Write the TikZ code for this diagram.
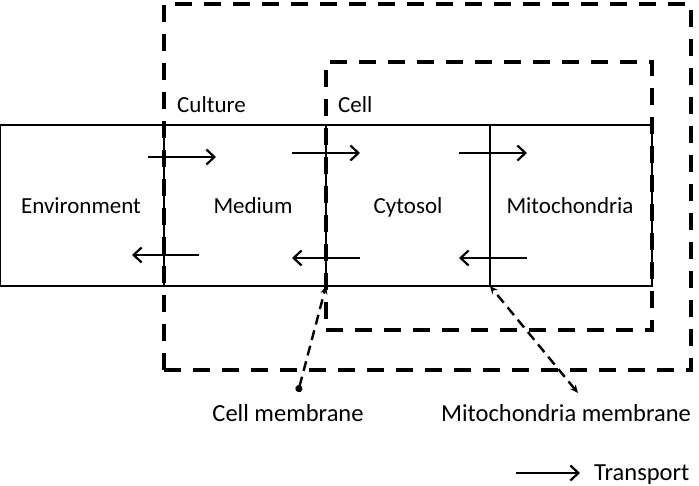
\documentclass[tikz,border=0pt]{standalone}
\usepackage{fontspec}
\setmainfont{Carlito}
\usetikzlibrary{arrows.meta}
\begin{document}
\begin{tikzpicture}[x=1pt,y=-1pt,
 comp/.style={draw,line width=1.3pt,minimum height=161pt,inner sep=0pt,outer sep=0pt},
 grp/.style={draw,line width=4pt,dash pattern=on 17pt off 12pt,inner sep=0pt,outer sep=0pt},
 lbl/.style={font=\fontsize{23}{27}\selectfont,inner sep=0pt,anchor=base},
 blbl/.style={font=\fontsize{24.5}{28}\selectfont,inner sep=0pt,anchor=base},
 tr/.style={line width=2.2pt,-{Straight Barb[length=8pt,width=15pt,line width=2.2pt]}},
 call/.style={line width=2.4pt,dash pattern=on 10pt off 6pt}]
\useasboundingbox (0,0) rectangle (699,486);
% compartments
\node[comp,minimum width=163pt] (env) at (82.3,205.5) {};
\node[comp,minimum width=162pt] (med) at (245,205.5) {};
\node[comp,minimum width=164pt] (cyt) at (408,205.5) {};
\node[comp,minimum width=162pt] (mit) at (571,205.5) {};
% groups
\node[grp,minimum width=527pt,minimum height=366pt] (culture) at (427.5,187) {};
\node[grp,minimum width=326pt,minimum height=268pt] (cell) at (489,196) {};
% labels
\node[lbl] (envl) at (81,214) {Environment};
\node[lbl] (medl) at (253,214) {Medium};
\node[lbl] (cytl) at (408,214) {Cytosol};
\node[lbl] (mitl) at (570,214) {Mitochondria};
\node[lbl,anchor=base west] (culturel) at (177,113) {Culture};
\node[lbl,anchor=base west] (celll) at (338,113) {Cell};
% transport arrows
\coordinate (a1s) at (148,157); \coordinate (a1e) at (216,157);
\coordinate (a2s) at (292,153); \coordinate (a2e) at (360,153);
\coordinate (a3s) at (459,153); \coordinate (a3e) at (527,153);
\coordinate (b1s) at (199,255); \coordinate (b1e) at (132,255);
\coordinate (b2s) at (360,258); \coordinate (b2e) at (292,258);
\coordinate (b3s) at (527,258); \coordinate (b3e) at (459,258);
\draw[tr] (a1s) -- (a1e);
\draw[tr] (a2s) -- (a2e);
\draw[tr] (a3s) -- (a3e);
\draw[tr] (b1s) -- (b1e);
\draw[tr] (b2s) -- (b2e);
\draw[tr] (b3s) -- (b3e);
% membrane callouts
\node[blbl] (cmt) at (288,421) {Cell membrane};
\node[blbl] (mmt) at (566,421) {Mitochondria membrane};
\coordinate (cmend) at (298,392);
\coordinate (mmend) at (578,393);
\draw[call,{Circle[length=7pt]}-{Stealth[length=8pt,width=7pt]}] (cmend) -- (med.south east);
\draw[call,{Stealth[length=8pt,width=7pt]}-{Stealth[length=8pt,width=7pt]}] (mmend) -- (cyt.south east);
% legend
\coordinate (ls) at (516,473); \coordinate (le) at (580,473);
\draw[tr] (ls) -- (le);
\node[blbl,anchor=base west] (legt) at (594,480) {Transport};
\end{tikzpicture}
\end{document}
